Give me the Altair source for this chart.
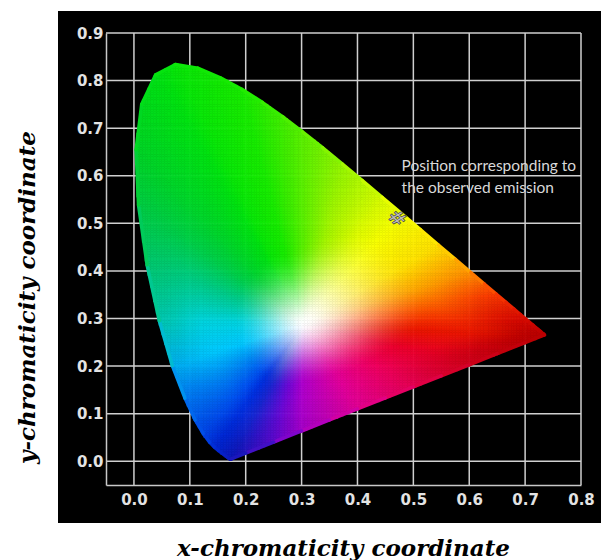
import numpy as np
import pandas as pd
import altair as alt

alt.data_transformers.disable_max_rows()

# CIE 1931 spectral locus (chromaticity x, y), 380 nm ... 700 nm
locus_x = [0.1741, 0.1740, 0.1738, 0.1736, 0.1733, 0.1730, 0.1726, 0.1721, 0.1714, 0.1703,
           0.1689, 0.1669, 0.1644, 0.1611, 0.1566, 0.1510, 0.1440, 0.1355, 0.1241, 0.1096,
           0.0913, 0.0687, 0.0454, 0.0235, 0.0082, 0.0039, 0.0139, 0.0389, 0.0743, 0.1142,
           0.1547, 0.1929, 0.2296, 0.2658, 0.3016, 0.3373, 0.3731, 0.4087, 0.4441, 0.4788,
           0.5125, 0.5448, 0.5752, 0.6029, 0.6270, 0.6482, 0.6658, 0.6801, 0.6915, 0.7006,
           0.7079, 0.7140, 0.7190, 0.7230, 0.7260, 0.7300, 0.7334, 0.7347]
locus_y = [0.0050, 0.0050, 0.0049, 0.0049, 0.0048, 0.0048, 0.0048, 0.0048, 0.0051, 0.0058,
           0.0069, 0.0086, 0.0109, 0.0138, 0.0177, 0.0227, 0.0297, 0.0399, 0.0578, 0.0868,
           0.1327, 0.2007, 0.2950, 0.4127, 0.5384, 0.6548, 0.7502, 0.8120, 0.8338, 0.8262,
           0.8059, 0.7816, 0.7543, 0.7243, 0.6923, 0.6589, 0.6245, 0.5896, 0.5547, 0.5202,
           0.4866, 0.4544, 0.4242, 0.3965, 0.3725, 0.3514, 0.3340, 0.3197, 0.3083, 0.2993,
           0.2920, 0.2859, 0.2809, 0.2770, 0.2740, 0.2700, 0.2666, 0.2653]

# points along the line of purples (700 nm end -> 380 nm end)
purple_x = [0.70, 0.65, 0.60, 0.55, 0.50, 0.45, 0.40, 0.35, 0.30, 0.25, 0.20]
purple_y = [0.2492, 0.2260, 0.2027, 0.1795, 0.1563, 0.1331, 0.1099, 0.0867, 0.0635, 0.0402, 0.0170]

# colours read off the picture along the boundary: "mid" = well inside, "edge" = at the rim,
# "reach" = how far the white centre spreads out towards that point
anchor_x = [0.174, 0.144, 0.124, 0.091, 0.069, 0.045, 0.023, 0.008, 0.004, 0.039, 0.074,
            0.193, 0.300, 0.373, 0.444, 0.479, 0.545, 0.603, 0.648, 0.700, 0.735,
            0.600, 0.500, 0.400, 0.300, 0.250]
anchor_y = [0.005, 0.030, 0.058, 0.133, 0.200, 0.295, 0.413, 0.538, 0.655, 0.812, 0.834,
            0.782, 0.692, 0.624, 0.555, 0.520, 0.454, 0.397, 0.351, 0.299, 0.265,
            0.203, 0.156, 0.110, 0.064, 0.040]
anchor_mid = [(25, 40, 210), (0, 50, 225), (0, 80, 240), (0, 140, 245), (0, 200, 255),
              (0, 212, 225), (0, 205, 140), (0, 208, 75), (0, 214, 45), (0, 226, 20),
              (10, 232, 10), (25, 236, 0), (90, 240, 0), (160, 246, 0), (225, 253, 0),
              (250, 255, 0), (255, 228, 0), (255, 165, 0), (255, 100, 0), (245, 45, 0),
              (235, 25, 0), (235, 0, 45), (240, 0, 95), (228, 0, 155), (175, 0, 205),
              (110, 10, 215)]
anchor_edge = [(15, 25, 185), (0, 40, 210), (0, 70, 230), (0, 120, 240), (0, 175, 240),
               (0, 200, 180), (0, 200, 115), (0, 205, 70), (0, 212, 40), (0, 225, 20),
               (10, 230, 10), (25, 235, 0), (90, 240, 0), (150, 245, 0), (215, 252, 0),
               (245, 255, 0), (255, 225, 0), (255, 145, 0), (250, 60, 0), (215, 10, 0),
               (185, 0, 0), (210, 0, 30), (230, 0, 85), (225, 0, 150), (165, 0, 200),
               (95, 10, 205)]
anchor_reach = [0.15, 0.14, 0.14, 0.13, 0.13, 0.13, 0.14, 0.15, 0.15, 0.16, 0.16,
                0.16, 0.17, 0.19, 0.22, 0.23, 0.23, 0.23, 0.23, 0.22, 0.21,
                0.18, 0.15, 0.13, 0.13, 0.14]

white_xy = (0.305, 0.290)   # whitest spot of the colour field in the picture

x_ticks = [0.0, 0.1, 0.2, 0.3, 0.4, 0.5, 0.6, 0.7, 0.8]
y_ticks = [0.0, 0.1, 0.2, 0.3, 0.4, 0.5, 0.6, 0.7, 0.8, 0.9]

marker_x = [0.470]
marker_y = [0.510]

note_lines = ["Position corresponding to", "the observed emission"]
note_x = [0.479, 0.479]
note_y = [0.620, 0.575]

cell = 0.005

Wx, Wy = white_xy
ang_a = np.arctan2(np.array(anchor_y) - Wy, np.array(anchor_x) - Wx)
order = np.argsort(ang_a)
ang_a = ang_a[order]
mid_a = np.array(anchor_mid, float)[order]
edge_a = np.array(anchor_edge, float)[order]
reach_a = np.array(anchor_reach, float)[order]

bx = np.array(locus_x + purple_x)
by = np.array(locus_y + purple_y)
ex_, ey_ = np.roll(bx, -1) - bx, np.roll(by, -1) - by


def boundary_fraction(px, py):
    dx = px - Wx
    dy = py - Wy
    best = np.full(px.shape, np.inf)
    for i in range(len(bx)):
        den = dx * ey_[i] - dy * ex_[i]
        wx_, wy_ = bx[i] - Wx, by[i] - Wy
        with np.errstate(divide="ignore", invalid="ignore"):
            t = (wx_ * ey_[i] - wy_ * ex_[i]) / den
            u = (wx_ * dy - wy_ * dx) / den
        ok = (np.abs(den) > 1e-12) & (u >= -1e-9) & (u <= 1 + 1e-9) & (t > 0)
        best = np.where(ok & (t < best), t, best)
    return np.clip(1 / best, 0, 1)


def smooth(t):
    t = np.clip(t, 0, 1)
    return t * t * (3 - 2 * t)


def colour(x, y):
    x = np.asarray(x, float)
    y = np.asarray(y, float)
    ang = np.arctan2(y - Wy, x - Wx)
    interp = lambda arr: np.interp(ang, ang_a, arr, period=2 * np.pi)
    mid = np.stack([interp(mid_a[:, k]) for k in range(3)])
    edg = np.stack([interp(edge_a[:, k]) for k in range(3)])
    reach = interp(reach_a)
    d = np.hypot(x - Wx, y - Wy)
    w = smooth(d / reach) ** 0.8
    rgb = 255 * (1 - w) + mid * w
    s = boundary_fraction(x, y)
    e = smooth((s - 0.65) / 0.35)
    rgb = rgb * (1 - e) + edg * e
    rgb = np.clip(np.round(rgb), 0, 255).astype(int)
    return ["#%02x%02x%02x" % (a, b, c) for a, b, c in rgb.T]


def inside(px, py, vx, vy):
    res = np.zeros(px.shape, bool)
    n = len(vx)
    j = n - 1
    for i in range(n):
        xi, yi, xj, yj = vx[i], vy[i], vx[j], vy[j]
        cond = ((yi > py) != (yj > py)) & (px < (xj - xi) * (py - yi) / (yj - yi + 1e-12) + xi)
        res ^= cond
        j = i
    return res


gx, gy = np.meshgrid(np.arange(0.0, 0.74, cell), np.arange(0.0, 0.845, cell))
cx = (gx + cell / 2).ravel()
cy = (gy + cell / 2).ravel()
keep = inside(cx, cy, np.array(locus_x), np.array(locus_y))
cells = pd.DataFrame({"x": gx.ravel()[keep], "y": gy.ravel()[keep]})
cells["c"] = colour(cx[keep], cy[keep])

rim_x = locus_x + purple_x + locus_x[:1]
rim_y = locus_y + purple_y + locus_y[:1]
edge = pd.DataFrame({"x": rim_x[:-1], "y": rim_y[:-1], "x2": rim_x[1:], "y2": rim_y[1:]})
mx = (np.array(rim_x[:-1]) + np.array(rim_x[1:])) / 2
my = (np.array(rim_y[:-1]) + np.array(rim_y[1:])) / 2
edge["c"] = colour(mx * 0.995 + Wx * 0.005, my * 0.995 + Wy * 0.005)

xscale = alt.Scale(domain=[-0.05, 0.8], nice=False, zero=False)
yscale = alt.Scale(domain=[-0.05, 0.9], nice=False, zero=False)

label_kw = dict(labelColor="#e3e3e3", labelFont="DejaVu Sans", labelFontSize=15,
                labelFontWeight="bold", ticks=False, grid=False, zindex=1,
                domainColor="#c8c8c8", domainWidth=1.5, labelOverlap=False,
                titleColor="black", titleFont="DejaVu Serif", titleFontSize=23,
                titleFontWeight="bold", titleFontStyle="italic")

xaxis = alt.Axis(values=x_ticks, format=".1f", labelPadding=7, labelFlush=False,
                 title="x-chromaticity coordinate",
                 titleX=237, titleY=70, titleAlign="center", titleBaseline="alphabetic",
                 **label_kw)
yaxis = alt.Axis(values=y_ticks, format=".1f", labelPadding=3,
                 title="y-chromaticity coordinate", titleAngle=-90,
                 titleX=-72, titleY=264, titleAlign="center", titleBaseline="alphabetic",
                 **label_kw)

X = alt.X("x:Q", scale=xscale, axis=xaxis)
Y = alt.Y("y:Q", scale=yscale, axis=yaxis)

bg = alt.Chart(pd.DataFrame({"d": [0]})).mark_rect(color="black").encode(
    x=alt.value(-48), x2=alt.value(505), y=alt.value(-22), y2=alt.value(490))

vgrid = alt.Chart(pd.DataFrame({"x": x_ticks})).mark_rule(
    color="#cfcfcf", strokeWidth=1.5).encode(x=X)
hgrid = alt.Chart(pd.DataFrame({"y": y_ticks})).mark_rule(
    color="#cfcfcf", strokeWidth=1.5).encode(y=Y)

field = alt.Chart(cells).transform_calculate(
    x2=f"datum.x + {cell}", y2=f"datum.y + {cell}"
).mark_rect(strokeWidth=0.6).encode(
    x=X, x2="x2:Q", y=Y, y2="y2:Q",
    fill=alt.Fill("c:N", scale=None), stroke=alt.Stroke("c:N", scale=None))

rim = alt.Chart(edge).mark_rule(strokeWidth=3.5, strokeCap="round").encode(
    x=X, y=Y, x2="x2:Q", y2="y2:Q", color=alt.Color("c:N", scale=None))

marker = alt.Chart(pd.DataFrame({"x": marker_x, "y": marker_y})).mark_text(
    text="#", font="DejaVu Sans", fontSize=20, fontWeight="bold", angle=45,
    color="#bdbdbd", stroke="#333333", strokeWidth=0.6).encode(x=X, y=Y)

note = alt.Chart(pd.DataFrame({"x": note_x, "y": note_y, "t": note_lines})).mark_text(
    align="left", baseline="middle", font="Lato", fontSize=15.5, color="#d9d9d9").encode(
    x=X, y=Y, text="t:N")

chart = alt.layer(bg, vgrid, hgrid, field, rim, marker, note).properties(
    width=475, height=452,
    padding={"left": 106, "top": 33, "right": 20, "bottom": 75},
    autosize=alt.AutoSizeParams(type="none"),
).configure(background="white").configure_view(stroke=None)

chart.save("out.html", embed_options={"renderer": "svg", "actions": False})
